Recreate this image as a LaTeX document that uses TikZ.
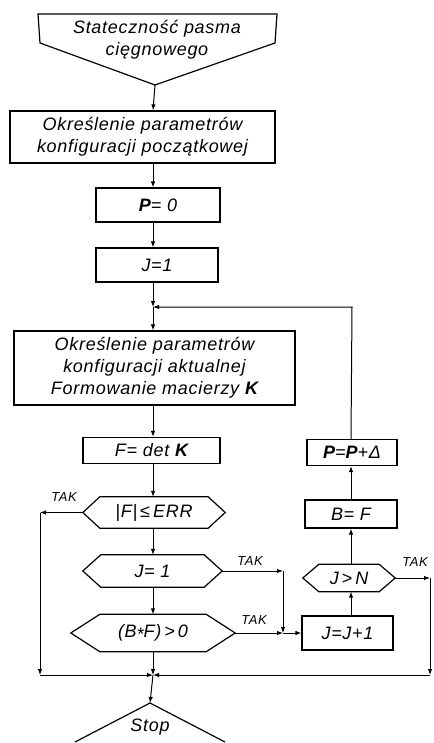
\documentclass[tikz,border=0pt]{standalone}
\usepackage{fontspec}
\setmainfont{Liberation Sans}
\newfontfamily\lettering[LetterSpace=4]{Liberation Sans}
\usetikzlibrary{arrows.meta,calc}
\begin{document}
\begin{tikzpicture}[x=1pt,y=-1pt,
  txt/.style={inner sep=0pt, align=center, font=\lettering\itshape\fontsize{18}{22}\selectfont},
  box/.style={txt, draw, line width=1.2pt},
  hx/.style={txt},
  outline/.style={line width=1.2pt, line join=miter},
  arr/.style={line width=1pt, -{Latex[length=6pt,width=4.5pt]}},
  lbl/.style={inner sep=0pt, font=\lettering\itshape\fontsize{13}{14}\selectfont}]
\useasboundingbox (0,0) rectangle (433,743);
% start shape
\node[txt] (start) at (157,40) {Stateczność pasma\\cięgnowego};
\coordinate (starttip) at (155,85);
\draw[outline] (38,14) -- (277,14) -- (275,43) -- (starttip) -- (40,43) -- cycle;
% main column
\node[box, minimum width=265pt, minimum height=52pt] (b2) at (142.5,137) {Określenie parametrów\\konfiguracji początkowej};
\node[box, minimum width=124pt, minimum height=34pt] (p0) at (158,205) {\textbf{P}= 0};
\node[box, minimum width=122pt, minimum height=34pt] (j1) at (157,265) {J=1};
\coordinate (jn1) at (153,307);
\node[box, minimum width=281pt, minimum height=74pt] (bb) at (154.5,368) {Określenie parametrów\\konfiguracji aktualnej\\Formowanie macierzy \textbf{K}};
\node[box, minimum width=137pt, minimum height=26pt] (fd) at (151.5,450.5) {F= det \textbf{K}};
\node[hx, minimum width=142pt, minimum height=31pt] (h1) at (154,512.5) {|F|\,≤\,ERR};
\node[hx, minimum width=139pt, minimum height=32pt] (h2) at (152.5,571) {J= 1};
\node[hx, minimum width=164pt, minimum height=37pt] (h3) at (153,633) {(B\raisebox{-0.35ex}{*}F)\,>\,0};
\coordinate (jn2) at (153,675);
\coordinate (stoptip) at (150,703);
\node[txt] (stop) at (150,727) {Stop};
\draw[outline] (75,742) -- (stoptip) -- (225,742);
% right column
\node[box, minimum width=90pt, minimum height=26pt] (pp) at (352,452.5) {\textbf{P}=\textbf{P}+Δ};
\node[box, minimum width=92pt, minimum height=28pt] (bf) at (351,514) {B= F};
\node[hx, minimum width=92pt, minimum height=27pt] (h4) at (349,578) {J\,>\,N};
\node[box, minimum width=91pt, minimum height=34pt] (jj) at (347.5,633) {J=J+1};
% hexagon outlines
\foreach \n/\c in {h1/17, h2/18, h3/29, h4/16}{
  \draw[outline] (\n.west) -- ([xshift=\c pt]\n.north west) -- ([xshift=-\c pt]\n.north east)
    -- (\n.east) -- ([xshift=-\c pt]\n.south east) -- ([xshift=\c pt]\n.south west) -- cycle;
}
% corner points
\coordinate (c1) at (40,512.5);
\coordinate (c2) at (40,675);
\coordinate (c3) at (283,571);
\coordinate (c4) at (283,633);
\coordinate (c5) at (430,578);
\coordinate (c6) at (430,675);
\coordinate (col) at (153,0);
\coordinate (rcol) at (351,0);
% main column connectors
\draw[arr] (starttip) -- (b2.north -| col);
\draw[arr] (b2.south -| col) -- (p0.north -| col);
\draw[arr] (p0.south -| col) -- (j1.north -| col);
\draw[arr] (j1.south -| col) -- (jn1);
\draw[arr] (jn1) -- (bb.north -| col);
\draw[arr] (bb.south -| col) -- (fd.north -| col);
\draw[arr] (fd.south -| col) -- (h1.north -| col);
\draw[arr] (h1.south -| col) -- (h2.north -| col);
\draw[arr] (h2.south -| col) -- (h3.north -| col);
\draw[arr] (h3.south -| col) -- (jn2);
\draw[arr] (jn2) -- (stoptip);
% TAK branches
\draw[arr] (h1.west) -- (c1);
\draw[arr] (c1) -- (c2);
\draw[arr] (c2) -- (jn2);
\draw[arr] (h2.east) -- (c3);
\draw[arr] (c3) -- (c4);
\draw[arr] (h3.east) -- (c4);
\draw[arr] (c4) -- (jj.west);
\draw[arr] (h4.east) -- (c5);
\draw[arr] (c5) -- (c6);
\draw[arr] (c6) -- (jn2);
% right column connectors
\draw[arr] (jj.north -| rcol) -- (h4.south -| rcol);
\draw[arr] (h4.north -| rcol) -- (bf.south -| rcol);
\draw[arr] (bf.north -| rcol) -- (pp.south -| rcol);
\draw[arr] (pp.north -| rcol) -- (pp.north |- jn1) -- (jn1);
% labels
\node[lbl] (t1) at (64,497) {TAK};
\node[lbl] (t2) at (250,561) {TAK};
\node[lbl] (t3) at (254,620) {TAK};
\node[lbl] (t4) at (415,562) {TAK};
\end{tikzpicture}
\end{document}
